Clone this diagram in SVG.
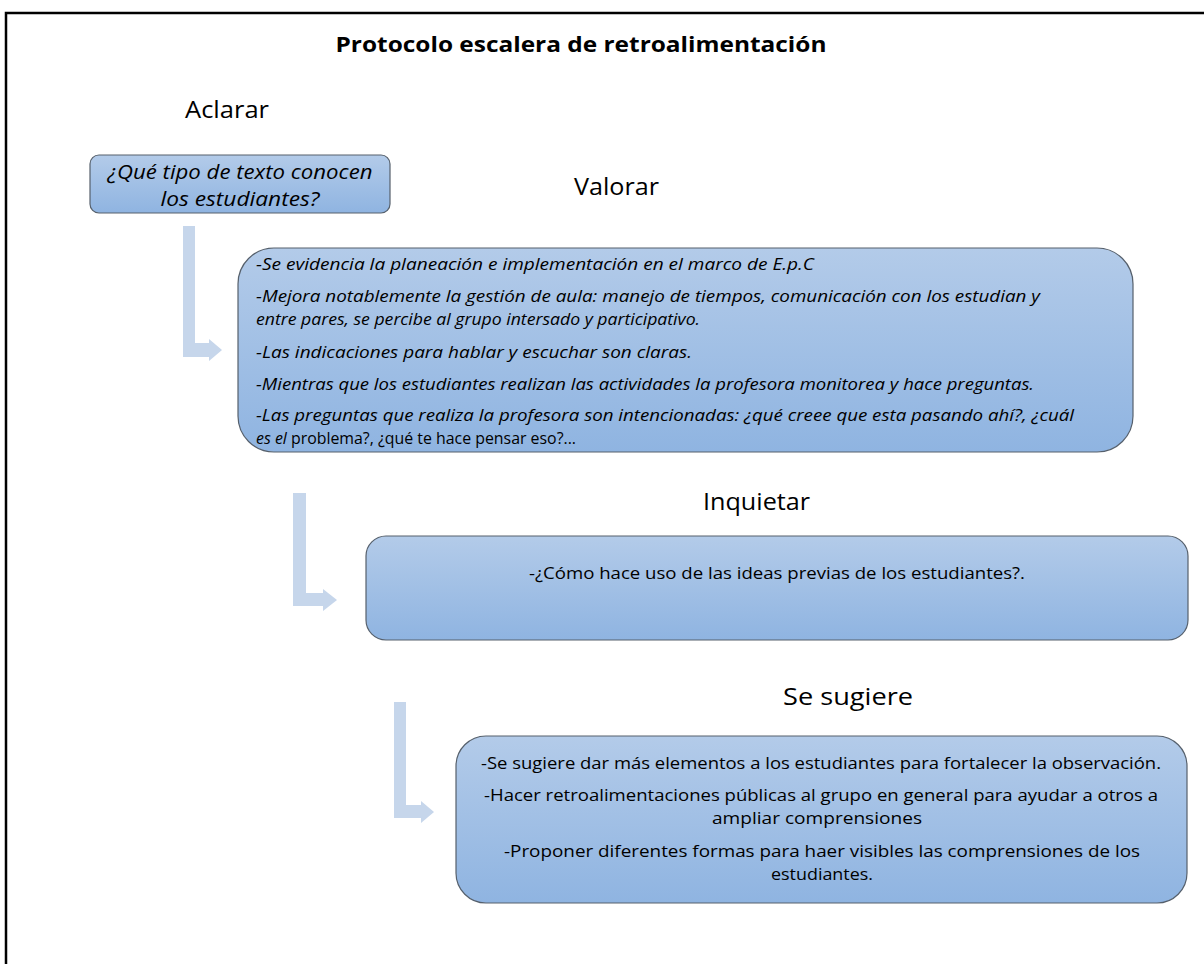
<svg xmlns="http://www.w3.org/2000/svg" width="1204" height="964" viewBox="0 0 1204 964">
  <defs>
    <linearGradient id="boxFill" x1="0" y1="0" x2="0" y2="1">
      <stop offset="0" stop-color="#b3cbe9"/>
      <stop offset="1" stop-color="#8fb4e1"/>
    </linearGradient>
    <style>
      .frame { fill: none; stroke: #000; stroke-width: 2.5; }
      .box { fill: url(#boxFill); stroke: #56606c; stroke-width: 1.2; }
      .step-arrow { fill: #c6d6eb; }
      .title { font-family: "Open Sans", Lato, sans-serif; font-weight: bold; font-size: 21px; fill: #000; }
      .stage { font-family: "Open Sans", Lato, sans-serif; font-size: 23px; fill: #000; }
      .q { font-family: "Open Sans", Lato, sans-serif; font-style: italic; font-size: 20px; fill: #000; }
      .it { font-family: "Open Sans", Lato, sans-serif; font-style: italic; font-size: 16px; fill: #000; }
      .tx { font-family: "Open Sans", Lato, sans-serif; font-size: 16.5px; fill: #000; }
    </style>
  </defs>

  <rect width="1204" height="964" fill="#fff"/>
  <!-- page frame: top and left rules -->
  <path class="frame" d="M6,964 V13 H1204"/>

  <text class="title" x="581" y="52" text-anchor="middle" textLength="491" lengthAdjust="spacingAndGlyphs">Protocolo escalera de retroalimentación</text>

  <!-- stage headings -->
  <text class="stage" x="185" y="118" textLength="84" lengthAdjust="spacingAndGlyphs">Aclarar</text>
  <text class="stage" x="574" y="195" textLength="85" lengthAdjust="spacingAndGlyphs">Valorar</text>
  <text class="stage" x="703" y="510" textLength="107" lengthAdjust="spacingAndGlyphs">Inquietar</text>
  <text class="stage" x="783" y="705" textLength="130" lengthAdjust="spacingAndGlyphs">Se sugiere</text>

  <!-- connectors -->
  <g id="connectors">
    <path class="step-arrow" d="M183,226 H195 V343 H209 V339 L222,350 L209,361 V357 H183 Z"/>
    <path class="step-arrow" d="M293,493 H306 V593 H323 V589 L337,600 L323,611 V606 H293 Z"/>
    <path class="step-arrow" d="M394,702 H406 V805 H421 V801 L434,812 L421,823 V818 H394 Z"/>
  </g>

  <g id="aclarar">
    <rect class="box" x="90" y="155" width="300" height="58" rx="9"/>
    <text class="q" x="240" y="179" text-anchor="middle" textLength="265" lengthAdjust="spacingAndGlyphs">¿Qué tipo de texto conocen</text>
    <text class="q" x="240" y="206" text-anchor="middle" textLength="159" lengthAdjust="spacingAndGlyphs">los estudiantes?</text>
  </g>

  <g id="valorar">
    <rect class="box" x="238" y="248" width="895" height="204" rx="36"/>
    <text class="it" x="256" y="270" textLength="558" lengthAdjust="spacingAndGlyphs">-Se evidencia la planeación e implementación en el marco de E.p.C</text>
    <text class="it" x="256" y="302" textLength="784" lengthAdjust="spacingAndGlyphs">-Mejora notablemente la gestión de aula: manejo de tiempos, comunicación con los estudian y</text>
    <text class="it" x="256" y="325" textLength="444" lengthAdjust="spacingAndGlyphs">entre pares, se percibe al grupo intersado y participativo.</text>
    <text class="it" x="256" y="358" textLength="436" lengthAdjust="spacingAndGlyphs">-Las indicaciones para hablar y escuchar son claras.</text>
    <text class="it" x="256" y="390" textLength="778" lengthAdjust="spacingAndGlyphs">-Mientras que los estudiantes realizan las actividades la profesora monitorea y hace preguntas.</text>
    <text class="it" x="256" y="421" textLength="818" lengthAdjust="spacingAndGlyphs">-Las preguntas que realiza la profesora son intencionadas: ¿qué creee que esta pasando ahí?, ¿cuál</text>
    <text class="it" x="256" y="444" textLength="320" lengthAdjust="spacingAndGlyphs">es el <tspan font-style="normal">problema?, ¿qué te hace pensar eso?...</tspan></text>
  </g>

  <g id="inquietar">
    <rect class="box" x="366" y="536" width="822" height="104" rx="20"/>
    <text class="tx" x="777" y="579" text-anchor="middle" textLength="496" lengthAdjust="spacingAndGlyphs">-¿Cómo hace uso de las ideas previas de los estudiantes?.</text>
  </g>

  <g id="se-sugiere">
    <rect class="box" x="456" y="736" width="731" height="167" rx="30"/>
    <text class="tx" x="821" y="769" text-anchor="middle" textLength="680" lengthAdjust="spacingAndGlyphs">-Se sugiere dar más elementos a los estudiantes para fortalecer la observación.</text>
    <text class="tx" x="821" y="801" text-anchor="middle" textLength="674" lengthAdjust="spacingAndGlyphs">-Hacer retroalimentaciones públicas al grupo en general para ayudar a otros a</text>
    <text class="tx" x="817" y="824" text-anchor="middle" textLength="210" lengthAdjust="spacingAndGlyphs">ampliar comprensiones</text>
    <text class="tx" x="822" y="857" text-anchor="middle" textLength="636" lengthAdjust="spacingAndGlyphs">-Proponer diferentes formas para haer visibles las comprensiones de los</text>
    <text class="tx" x="822" y="880" text-anchor="middle" textLength="102" lengthAdjust="spacingAndGlyphs">estudiantes.</text>
  </g>
</svg>
